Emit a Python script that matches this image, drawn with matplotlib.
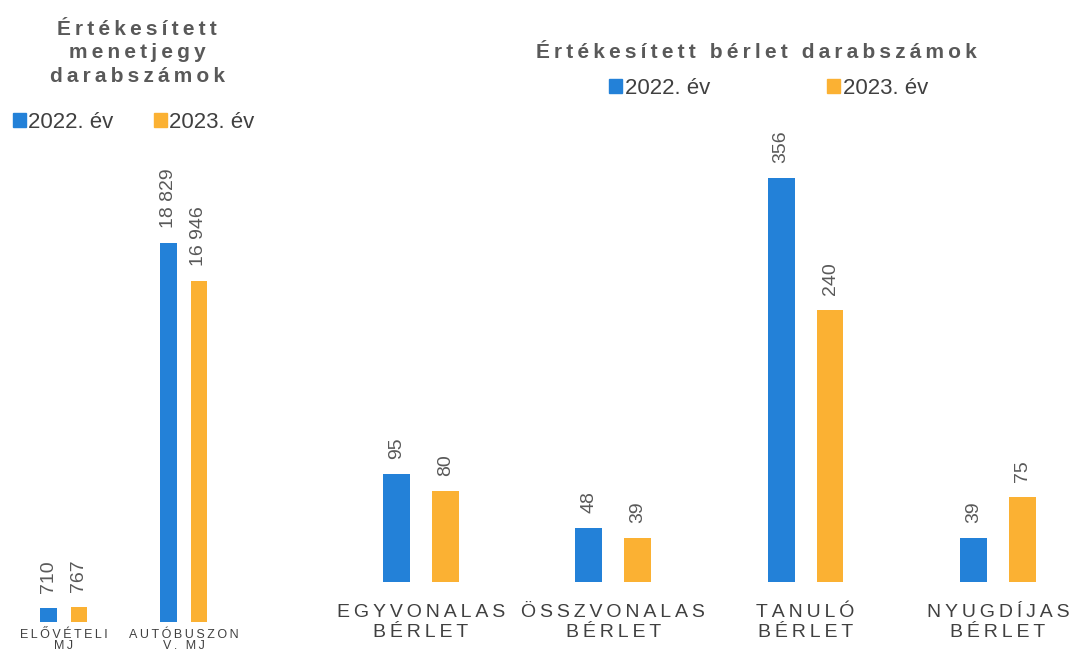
import matplotlib
matplotlib.use('Agg')
import matplotlib.pyplot as plt
from matplotlib.patches import Patch
import numpy as np

plt.rcParams['font.family'] = ['Liberation Sans', 'DejaVu Sans']

W, H, DPI = 1069, 652, 100

# ---- data ----
ticket_cats = ['ELŐVÉTELI\nMJ', 'AUTÓBUSZON\nV. MJ']
ticket_2022 = [710, 18829]
ticket_2023 = [767, 16946]

pass_cats = ['EGYVONALAS\nBÉRLET', 'ÖSSZVONALAS\nBÉRLET', 'TANULÓ\nBÉRLET', 'NYUGDÍJAS\nBÉRLET']
pass_2022 = [95, 48, 356, 39]
pass_2023 = [80, 39, 240, 75]

series_labels = ['2022. év', '2023. év']
title_left = 'Értékesített\nmenetjegy\ndarabszámok'
title_right = 'Értékesített bérlet darabszámok'

BLUE = '#2381d8'
ORANGE = '#fbb133'
VAL_C = '#595959'
TXT_C = '#404040'
SP = '\u2009'


def spaced(s):
    return '\n'.join(SP.join(line) for line in s.split('\n'))


def fmt(v):
    return f'{v:,}'.replace(',', ' ')


fig = plt.figure(figsize=(W / DPI, H / DPI), dpi=DPI)


def px_axes(left, bottom_y, right, top_y):
    return fig.add_axes([left / W, 1 - bottom_y / H, (right - left) / W, (bottom_y - top_y) / H])


def draw(ax, cats, a, b, xlim, ylim, cat_fs, pad, ls):
    x = np.arange(len(cats))
    w, off = 0.14, 0.127
    b1 = ax.bar(x - off, a, w, color=BLUE)
    b2 = ax.bar(x + off, b, w, color=ORANGE)
    for bars, vals in ((b1, a), (b2, b)):
        for r, v in zip(bars, vals):
            ax.annotate(fmt(v), (r.get_x() + r.get_width() / 2, r.get_height()),
                        xytext=(0, 15), textcoords='offset pixels', rotation=90,
                        ha='center', va='bottom', fontsize=14, color=VAL_C)
    ax.set_xticks(x, [spaced(c) for c in cats])
    ax.tick_params(axis='x', length=0, labelsize=cat_fs, colors=TXT_C, pad=pad)
    for t in ax.get_xticklabels():
        t.set_linespacing(ls)
    ax.set_yticks([])
    ax.set_xlim(*xlim)
    ax.set_ylim(*ylim)
    for s in ax.spines.values():
        s.set_visible(False)
    ax.patch.set_alpha(0)


axL = px_axes(3.75, 622, 243.75, 122)
draw(axL, ticket_cats, ticket_2022, ticket_2023, (-0.5, 1.5), (0, 24840), 9, 5, 0.95)

axR = px_axes(325, 582, 1069, 132)
draw(axR, pass_cats, pass_2022, pass_2023, (-0.5, 3.37), (0, 396.5), 14, 16, 1.25)

# titles
fig.text(137 / W, 1 - 53 / H, spaced(title_left), ha='center', va='center', fontsize=15,
         fontweight='bold', color=VAL_C, linespacing=1.3)
fig.text(756 / W, 1 - 53 / H, spaced(title_right), ha='center', va='center', fontsize=15,
         fontweight='bold', color=VAL_C)

# legends
handles = [Patch(color=BLUE), Patch(color=ORANGE)]
fig.legend(handles, series_labels, loc='center', bbox_to_anchor=(133.5 / W, 1 - 122 / H), ncol=2,
           frameon=False, fontsize=16, handlelength=0.6, handleheight=0.6, handletextpad=0.1,
           columnspacing=1.8, labelcolor=TXT_C, borderpad=0, borderaxespad=0)
fig.legend(handles, series_labels, loc='center', bbox_to_anchor=(768.5 / W, 1 - 88 / H), ncol=2,
           frameon=False, fontsize=16, handlelength=0.6, handleheight=0.6, handletextpad=0.1,
           columnspacing=5.27, labelcolor=TXT_C, borderpad=0, borderaxespad=0)

fig.savefig('out.png', dpi=DPI)
